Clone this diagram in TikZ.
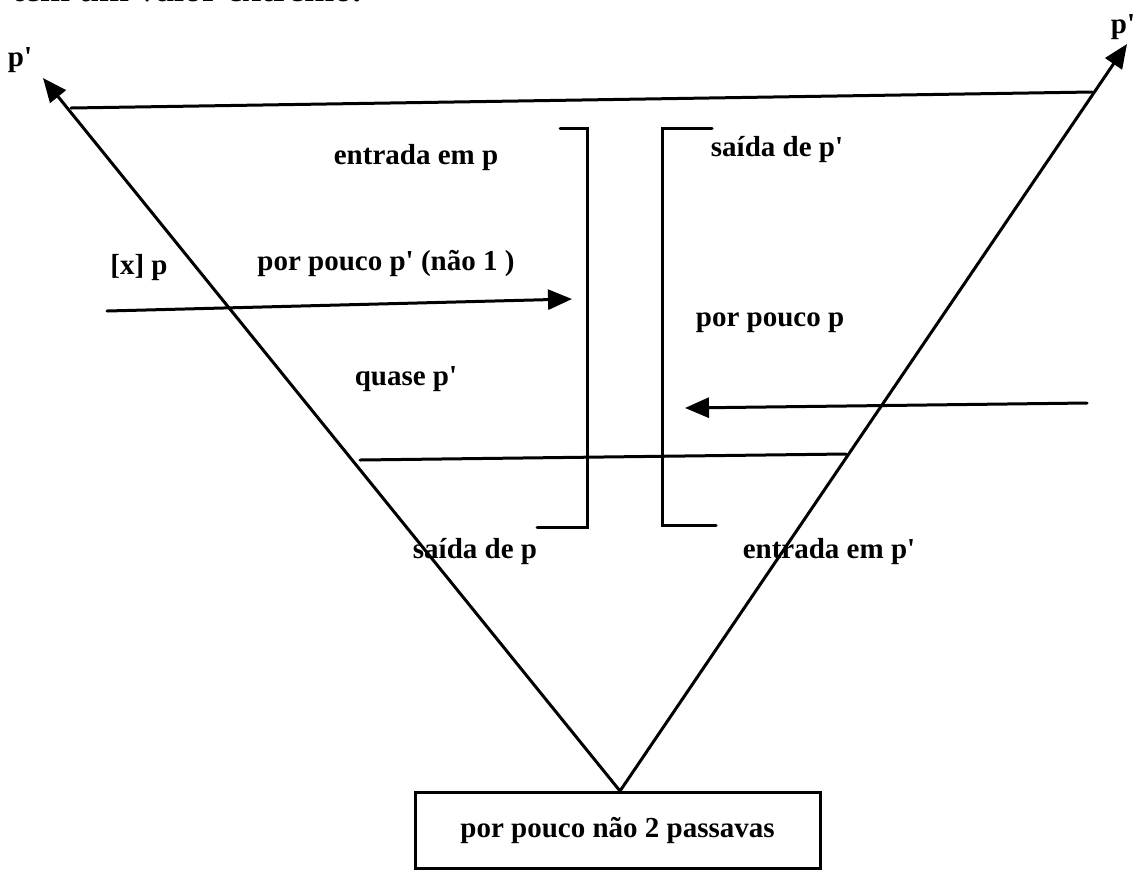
\documentclass[tikz,border=0pt]{standalone}
\usepackage{fontspec}
\setmainfont{Liberation Serif}[Ligatures=TeXOff]
\usetikzlibrary{arrows.meta}
\tikzset{
  ln/.style={line width=3pt, line cap=round, line join=miter},
  arr/.style={ln, -{Triangle[length=24pt,width=20pt]}},
  lbl/.style={font=\fontsize{29}{34}\selectfont\bfseries, inner sep=0pt},
  boxnode/.style={draw, line width=3pt, minimum width=405pt, minimum height=76pt, inner sep=0pt, font=\fontsize{29}{34}\selectfont\bfseries}
}
\begin{document}
\begin{tikzpicture}[x=1pt,y=-1pt]
\useasboundingbox (0,0) rectangle (1135,871);
\clip (0,0) rectangle (1135,871);
% cut-off heading line
\node[font=\fontsize{36}{40}\selectfont\bfseries, anchor=base west, inner sep=0pt] (head) at (12,1) {tem um valor extremo.};
% bottom box
\node[boxnode] (box) at (617.5,830) {por pouco não 2 passavas};
\coordinate (apex) at (620,791);
\coordinate (tipL) at (43,78);
\coordinate (tipR) at (1127,44);
\draw[arr] (apex) -- (tipL);
\draw[arr] (apex) -- (tipR);
% horizontal lines
\coordinate (topL) at (71,108);
\coordinate (topR) at (1092,92);
\draw[ln] (topL) -- (topR);
\coordinate (lowL) at (360,460);
\coordinate (lowR) at (846,454);
\draw[ln] (lowL) -- (lowR);
% brackets
\coordinate (b1a) at (560,128);
\coordinate (b1b) at (587,128);
\coordinate (b1c) at (587,527);
\coordinate (b1d) at (537,527);
\draw[ln] (b1a) -- (b1b) -- (b1c) -- (b1d);
\coordinate (b2a) at (712,128);
\coordinate (b2b) at (662,128);
\coordinate (b2c) at (662,525);
\coordinate (b2d) at (716,525);
\draw[ln] (b2a) -- (b2b) -- (b2c) -- (b2d);
% arrows
\coordinate (a1s) at (107,311);
\coordinate (a1e) at (572,299);
\draw[arr] (a1s) -- (a1e);
\coordinate (a2s) at (1087,403);
\coordinate (a2e) at (685,408);
\draw[arr] (a2s) -- (a2e);
% labels
\node[lbl] (pL) at (20,60) {p'};
\node[lbl] (pR) at (1123,27) {p'};
\node[lbl] (entp) at (416,158) {entrada em p};
\node[lbl] (saip2) at (777,150) {saída de p'};
\node[lbl] (xp) at (139,268) {[x] p};
\node[lbl] (ppp2) at (386,263) {por pouco p' (não 1 )};
\node[lbl] (ppp) at (770,323) {por pouco p};
\node[lbl] (quase) at (406,379) {quase p'};
\node[lbl] (saip) at (475,552) {saída de p};
\node[lbl] (entp2) at (829,552) {entrada em p'};
\end{tikzpicture}
\end{document}
